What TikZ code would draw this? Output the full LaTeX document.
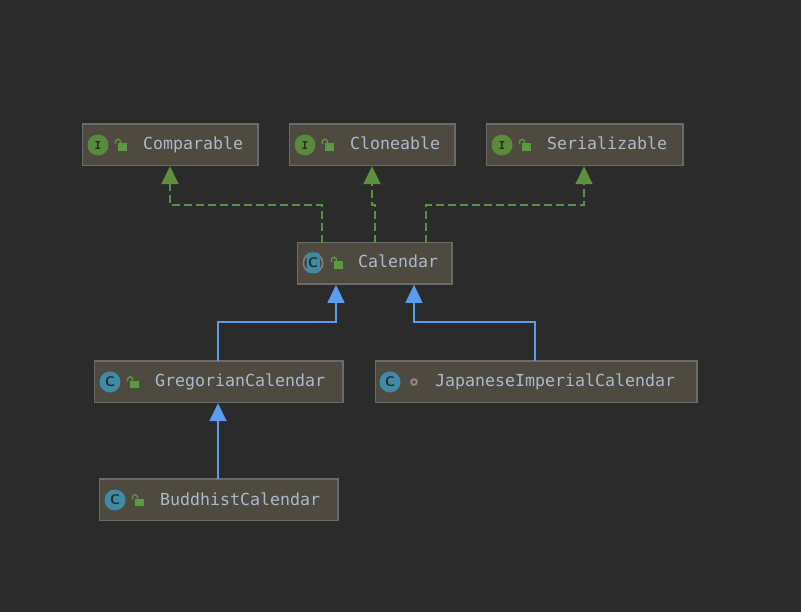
\documentclass[tikz,border=0pt]{standalone}
\usepackage{fontspec}
\setmonofont{DejaVu Sans Mono}
\usetikzlibrary{arrows.meta,calc}
\definecolor{bg}{HTML}{2B2B2B}
\definecolor{boxfill}{HTML}{4F4A3F}
\definecolor{boxline}{HTML}{6A6A6A}
\definecolor{txt}{HTML}{A9BACE}
\definecolor{igreen}{HTML}{5A8A3C}
\definecolor{dgreen}{HTML}{5A9040}
\definecolor{cblue}{HTML}{3D8BA6}
\definecolor{ablue}{HTML}{589DF0}
\definecolor{lockg}{HTML}{5C9A42}
\tikzset{
  x=1pt,y=-1pt,
  cls/.style={draw=boxline,line width=1.4pt,fill=boxfill,minimum height=41.5pt,inner sep=0pt,outer sep=0pt,anchor=north west},
  lbl/.style={text=txt,font=\ttfamily\fontsize{16.6}{18}\selectfont,inner sep=0pt,anchor=base west},
  iicon/.style={circle,fill=igreen,minimum size=21pt,inner sep=0pt,text=bg,font=\ttfamily\bfseries\fontsize{11}{11}\selectfont},
  cicon/.style={circle,fill=cblue,minimum size=21pt,inner sep=0pt,text=bg,font=\sffamily\bfseries\fontsize{14}{14}\selectfont},
  impl/.style={draw=dgreen,line width=1.7pt,dash pattern=on 8pt off 4pt,-{Triangle[width=17pt,length=18pt,fill=dgreen]}},
  ext/.style={draw=ablue,line width=1.7pt,-{Triangle[width=17pt,length=18pt,fill=ablue]}},
  pics/lock/.style={code={
    \fill[lockg] (-2.3,-1.7) rectangle (6.7,5.7);
    \draw[lockg,line width=1.3pt] (-4.5,-1) -- (-4.5,-3.2) arc[start angle=180,end angle=360,radius=2.5] -- (0.5,-1.8);
  }},
  pics/dot/.style={code={
    \draw[gray!90,line width=1.8pt] (0,0) circle[radius=2.8];
  }}
}
\begin{document}
\begin{tikzpicture}
\useasboundingbox (0,0) rectangle (801,612);
\fill[bg] (0,0) rectangle (801,612);

\node[cls,minimum width=175.3pt] (comparable) at (82.7,124) {};
\node[cls,minimum width=165.3pt] (cloneable) at (289.7,124) {};
\node[cls,minimum width=196.3pt] (serializable) at (486.7,124) {};
\node[cls,minimum width=154.3pt] (calendar) at (297.7,242.7) {};
\node[cls,minimum width=248.3pt] (gregorian) at (94.7,361) {};
\node[cls,minimum width=321.3pt] (japanese) at (375.7,361) {};
\node[cls,minimum width=238.3pt] (buddhist) at (99.7,479) {};

% Icons
\node[iicon] (i1) at (98,145) {I};
\node[iicon] (i2) at (305,145) {I};
\node[iicon] (i3) at (502,145) {I};
\node[cicon] (c2) at (110,382) {C};
\node[cicon] (c3) at (390,382) {C};
\node[cicon] (c4) at (115,500) {C};
% Calendar icon
\fill[gray] (313,263) circle[radius=10.5];
\fill[boxfill!60!bg] (313,263) circle[radius=8.7];
\fill[cblue,rounded corners=3pt] (306.7,252.7) rectangle (320,273);
\node[text=bg,font=\sffamily\bfseries\fontsize{14}{14}\selectfont,inner sep=0pt] (c1) at (313,263) {C};

% Locks
\pic at (120,145) {lock};
\pic at (327,145) {lock};
\pic at (524,145) {lock};
\pic at (336,263) {lock};
\pic at (132,382.5) {lock};
\pic at (137,500.5) {lock};
\pic at (414,382) {dot};

% Labels
\node[lbl] (t1) at (143,150) {Comparable};
\node[lbl] (t2) at (350,150) {Cloneable};
\node[lbl] (t3) at (547,150) {Serializable};
\node[lbl] (t4) at (358,268) {Calendar};
\node[lbl] (t5) at (155,387) {GregorianCalendar};
\node[lbl] (t6) at (435,387) {JapaneseImperialCalendar};
\node[lbl] (t7) at (160,505) {BuddhistCalendar};

% Connector ports
\coordinate (calA) at ($(calendar.north west)+(24.3,0)$);
\coordinate (calB) at ($(calendar.north west)+(77.3,0)$);
\coordinate (calC) at ($(calendar.north west)+(128.3,0)$);
\coordinate (cmpT) at ($(comparable.south west)+(87.3,0.7)$);
\coordinate (clnT) at ($(cloneable.south west)+(82.3,0.7)$);
\coordinate (serT) at ($(serializable.south west)+(97.3,0.7)$);
\coordinate (calD) at ($(calendar.south west)+(38.3,0.7)$);
\coordinate (calE) at ($(calendar.south west)+(116.3,0.7)$);
\coordinate (greT) at ($(gregorian.north west)+(123.3,0)$);
\coordinate (japT) at ($(japanese.north west)+(159.3,0)$);
\coordinate (greB) at ($(gregorian.south west)+(123.3,0.7)$);
\coordinate (budT) at ($(buddhist.north west)+(118.3,0)$);
\coordinate (m1) at (322,205);
\coordinate (m2) at (170,205);
\coordinate (m3) at (375,205);
\coordinate (m4) at (372,205);
\coordinate (m5) at (426,205);
\coordinate (m6) at (584,205);
\coordinate (m7) at (218,322);
\coordinate (m8) at (336,322);
\coordinate (m9) at (535,322);
\coordinate (m10) at (414,322);

% Connectors
\draw[impl] (calA) -- (m1) -- (m2) -- (cmpT);
\draw[impl] (calB) -- (m3) -- (m4) -- (clnT);
\draw[impl] (calC) -- (m5) -- (m6) -- (serT);
\draw[ext] (greT) -- (m7) -- (m8) -- (calD);
\draw[ext] (japT) -- (m9) -- (m10) -- (calE);
\draw[ext] (budT) -- (greB);
\end{tikzpicture}
\end{document}
